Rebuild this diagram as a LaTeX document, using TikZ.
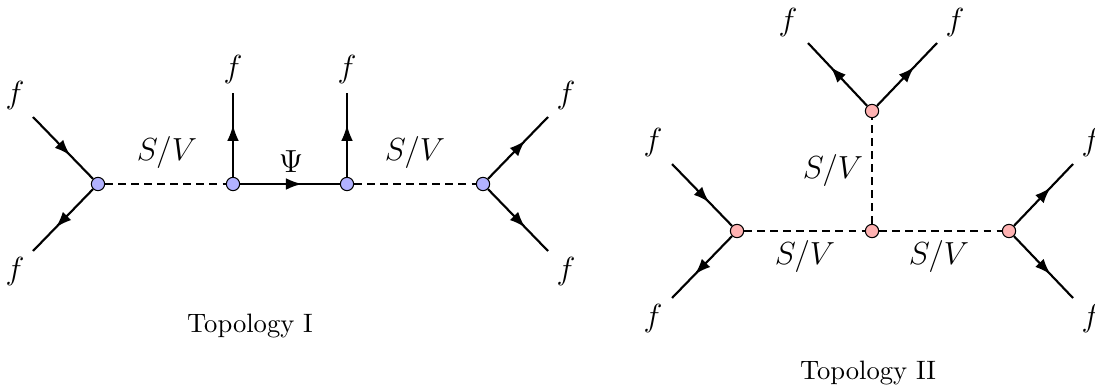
\documentclass[tikz,border=0pt]{standalone}
\usepackage{amsmath,amssymb}
\usepackage{xcolor}
\usetikzlibrary{arrows.meta,decorations.markings}

\tikzset{
  fermion/.style={thick,postaction={decorate},
    decoration={markings,mark=at position 0.62 with {\arrow{Latex[length=6pt,width=4.4pt]}}}},
  scalar/.style={thick,dash pattern=on 3pt off 1.9pt},
  vtxI/.style={circle,draw,thin,fill=blue!30,inner sep=0pt,minimum size=5pt},
  vtxII/.style={circle,draw,thin,fill=red!30,inner sep=0pt,minimum size=5pt},
}

\begin{document}
\begin{tikzpicture}[x=0.1321cm,y=-0.1321cm,every node/.style={font=\large}]
\useasboundingbox (0,0) rectangle (109.5,38.5);
% Topology I
\node[vtxI] (a1) at (9.8,18.4) {};
\node[vtxI] (a2) at (23.3,18.4) {};
\node[vtxI] (a3) at (34.7,18.4) {};
\node[vtxI] (a4) at (48.3,18.4) {};
\coordinate (a1u) at (3.3,11.7);
\coordinate (a1d) at (3.3,25.1);
\coordinate (a2u) at (23.3,9.3);
\coordinate (a3u) at (34.7,9.3);
\coordinate (a4u) at (54.8,11.7);
\coordinate (a4d) at (54.8,25.1);
\draw[fermion] (a1u) -- (a1);
\draw[fermion] (a1) -- (a1d);
\draw[scalar] (a1) -- (a2);
\draw[fermion] (a2) -- (a3);
\draw[fermion] (a2) -- (a2u);
\draw[fermion] (a3) -- (a3u);
\draw[scalar] (a3) -- (a4);
\draw[fermion] (a4) -- (a4u);
\draw[fermion] (a4) -- (a4d);
\node (fa1u) at (1.5,9.6) {$f$};
\node (fa1d) at (1.5,27.2) {$f$};
\node (fa2u) at (23.3,7.0) {$f$};
\node (fa3u) at (34.7,7.0) {$f$};
\node (fa4u) at (56.6,9.6) {$f$};
\node (fa4d) at (56.6,27.2) {$f$};
\node (svA) at (16.7,15.3) {$S/V$};
\node (svB) at (41.5,15.3) {$S/V$};
\node (psi) at (29.1,16.2) {$\Psi$};
\node[font=\normalsize] (capI) at (25.0,32.6) {Topology I};
% Topology II
\node[vtxII] (b1) at (73.7,23.1) {};
\node[vtxII] (b2) at (87.2,23.1) {};
\node[vtxII] (b3) at (100.9,23.1) {};
\node[vtxII] (b4) at (87.2,11.1) {};
\coordinate (b1u) at (67.2,16.4);
\coordinate (b1d) at (67.2,29.8);
\coordinate (b3u) at (107.3,16.4);
\coordinate (b3d) at (107.3,29.8);
\coordinate (b4l) at (80.8,4.3);
\coordinate (b4r) at (93.7,4.3);
\draw[fermion] (b1u) -- (b1);
\draw[fermion] (b1) -- (b1d);
\draw[scalar] (b1) -- (b2);
\draw[scalar] (b2) -- (b3);
\draw[scalar] (b2) -- (b4);
\draw[fermion] (b3) -- (b3u);
\draw[fermion] (b3) -- (b3d);
\draw[fermion] (b4) -- (b4l);
\draw[fermion] (b4) -- (b4r);
\node (fb1u) at (65.3,14.3) {$f$};
\node (fb1d) at (65.3,31.9) {$f$};
\node (fb3u) at (109.1,14.3) {$f$};
\node (fb3d) at (109.1,31.9) {$f$};
\node (fb4l) at (78.8,2.3) {$f$};
\node (fb4r) at (95.5,2.3) {$f$};
\node (svC) at (83.3,17.1) {$S/V$};
\node (svD) at (80.5,25.7) {$S/V$};
\node (svE) at (93.9,25.7) {$S/V$};
\node[font=\normalsize] (capII) at (86.8,37.3) {Topology II};
\end{tikzpicture}
\end{document}
